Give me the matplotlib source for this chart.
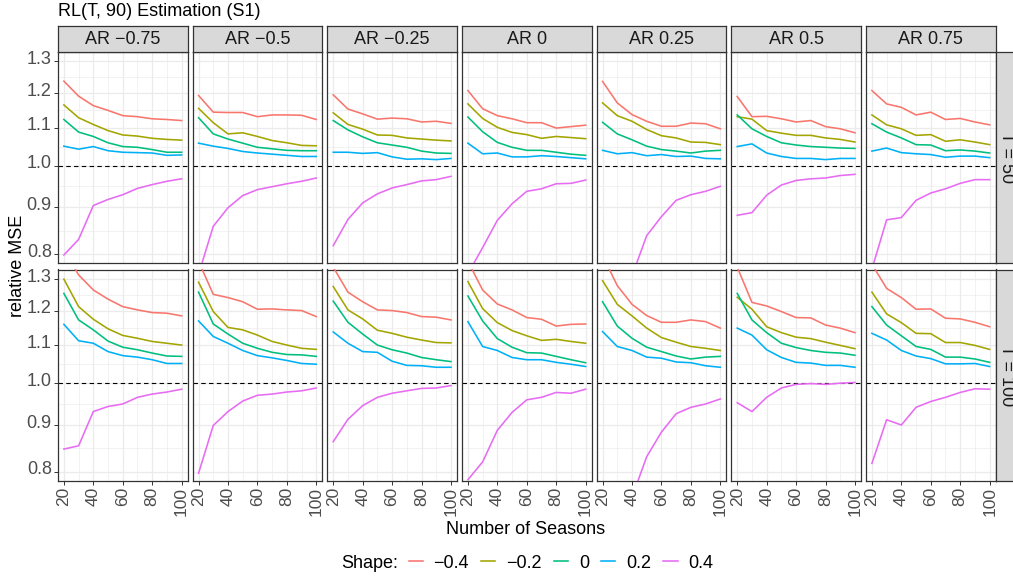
import matplotlib
matplotlib.use("Agg")
import matplotlib.pyplot as plt
import matplotlib.transforms as mtransforms
from matplotlib.lines import Line2D
import numpy as np

plt.rcParams['font.family'] = ['Liberation Sans', 'DejaVu Sans']

seasons = [20, 30, 40, 50, 60, 70, 80, 90, 100]
shapes = ['\u22120.4', '\u22120.2', '0', '0.2', '0.4']
colors = ['#F8766D', '#A3A500', '#00BF7D', '#00B0F6', '#E76BF3']
ar_labels = ['AR \u22120.75', 'AR \u22120.5', 'AR \u22120.25', 'AR 0', 'AR 0.25', 'AR 0.5', 'AR 0.75']
t_labels = ['T = 50', 'T = 100']

# relative MSE, one list per shape (-0.4, -0.2, 0, 0.2, 0.4), T = 50
t50_ar_m075 = [[1.237, 1.191, 1.163, 1.149, 1.134, 1.131, 1.125, 1.123, 1.120],
               [1.165, 1.128, 1.109, 1.092, 1.080, 1.077, 1.071, 1.068, 1.066],
               [1.123, 1.088, 1.076, 1.059, 1.049, 1.047, 1.041, 1.034, 1.034],
               [1.050, 1.042, 1.049, 1.038, 1.034, 1.033, 1.032, 1.026, 1.027],
               [0.798, 0.830, 0.904, 0.918, 0.929, 0.944, 0.953, 0.961, 0.967]]
t50_ar_m05 = [[1.193, 1.144, 1.143, 1.143, 1.131, 1.136, 1.136, 1.135, 1.123],
              [1.155, 1.114, 1.083, 1.086, 1.076, 1.065, 1.059, 1.052, 1.051],
              [1.128, 1.083, 1.069, 1.058, 1.047, 1.043, 1.039, 1.038, 1.038],
              [1.058, 1.050, 1.044, 1.036, 1.032, 1.029, 1.026, 1.023, 1.023],
              [0.760, 0.858, 0.899, 0.927, 0.941, 0.948, 0.955, 0.961, 0.969]]
t50_ar_m025 = [[1.195, 1.153, 1.139, 1.124, 1.127, 1.125, 1.116, 1.118, 1.112],
               [1.142, 1.109, 1.096, 1.080, 1.079, 1.072, 1.069, 1.066, 1.064],
               [1.120, 1.094, 1.075, 1.059, 1.053, 1.047, 1.037, 1.032, 1.031],
               [1.034, 1.034, 1.031, 1.033, 1.022, 1.016, 1.017, 1.015, 1.018],
               [0.817, 0.873, 0.910, 0.931, 0.945, 0.953, 0.962, 0.965, 0.973]]
t50_ar_0 = [[1.208, 1.154, 1.134, 1.125, 1.114, 1.114, 1.099, 1.103, 1.107],
            [1.168, 1.126, 1.101, 1.087, 1.081, 1.071, 1.076, 1.073, 1.070],
            [1.130, 1.089, 1.060, 1.047, 1.039, 1.039, 1.034, 1.029, 1.026],
            [1.058, 1.030, 1.032, 1.022, 1.022, 1.025, 1.023, 1.020, 1.017],
            [0.761, 0.813, 0.871, 0.908, 0.937, 0.943, 0.955, 0.956, 0.964]]
t50_ar_025 = [[1.236, 1.171, 1.137, 1.118, 1.104, 1.104, 1.113, 1.111, 1.097],
              [1.171, 1.134, 1.118, 1.095, 1.078, 1.072, 1.061, 1.060, 1.054],
              [1.115, 1.083, 1.067, 1.050, 1.041, 1.037, 1.032, 1.037, 1.039],
              [1.039, 1.030, 1.033, 1.025, 1.028, 1.023, 1.024, 1.018, 1.017],
              [0.660, 0.710, 0.757, 0.838, 0.879, 0.916, 0.929, 0.937, 0.949]]
t50_ar_05 = [[1.190, 1.131, 1.132, 1.125, 1.116, 1.120, 1.103, 1.097, 1.086],
             [1.131, 1.124, 1.092, 1.085, 1.079, 1.079, 1.072, 1.068, 1.061],
             [1.136, 1.097, 1.076, 1.059, 1.053, 1.049, 1.047, 1.045, 1.044],
             [1.049, 1.056, 1.032, 1.023, 1.018, 1.018, 1.015, 1.018, 1.018],
             [0.882, 0.888, 0.928, 0.952, 0.963, 0.967, 0.969, 0.975, 0.978]]
t50_ar_075 = [[1.208, 1.168, 1.158, 1.136, 1.144, 1.123, 1.126, 1.116, 1.108],
              [1.136, 1.108, 1.097, 1.079, 1.081, 1.063, 1.067, 1.061, 1.054],
              [1.111, 1.088, 1.072, 1.054, 1.053, 1.038, 1.040, 1.037, 1.032],
              [1.037, 1.045, 1.033, 1.030, 1.028, 1.021, 1.024, 1.024, 1.020],
              [0.770, 0.872, 0.877, 0.916, 0.933, 0.943, 0.956, 0.965, 0.965]]

# T = 100
t100_ar_m075 = [[1.400, 1.314, 1.265, 1.236, 1.213, 1.203, 1.195, 1.193, 1.185],
                [1.300, 1.213, 1.175, 1.147, 1.128, 1.120, 1.111, 1.106, 1.101],
                [1.254, 1.173, 1.144, 1.112, 1.095, 1.088, 1.079, 1.071, 1.070],
                [1.160, 1.113, 1.106, 1.083, 1.072, 1.068, 1.061, 1.051, 1.051],
                [0.847, 0.854, 0.931, 0.943, 0.949, 0.965, 0.973, 0.978, 0.985]]
t100_ar_m05 = [[1.360, 1.251, 1.241, 1.228, 1.205, 1.206, 1.203, 1.201, 1.183],
               [1.290, 1.198, 1.151, 1.144, 1.129, 1.111, 1.101, 1.092, 1.089],
               [1.258, 1.161, 1.132, 1.106, 1.092, 1.081, 1.075, 1.074, 1.070],
               [1.170, 1.125, 1.106, 1.086, 1.072, 1.066, 1.059, 1.051, 1.049],
               [0.797, 0.899, 0.931, 0.956, 0.970, 0.973, 0.978, 0.981, 0.988]]
t100_ar_m025 = [[1.340, 1.258, 1.228, 1.203, 1.201, 1.195, 1.183, 1.181, 1.173],
                [1.276, 1.203, 1.176, 1.143, 1.134, 1.123, 1.115, 1.108, 1.107],
                [1.230, 1.166, 1.132, 1.101, 1.088, 1.079, 1.067, 1.061, 1.056],
                [1.138, 1.106, 1.083, 1.081, 1.057, 1.046, 1.045, 1.041, 1.041],
                [0.863, 0.913, 0.945, 0.965, 0.975, 0.981, 0.987, 0.988, 0.994]]
t100_ar_0 = [[1.360, 1.265, 1.221, 1.203, 1.180, 1.175, 1.155, 1.160, 1.161],
             [1.292, 1.207, 1.165, 1.142, 1.127, 1.114, 1.117, 1.111, 1.106],
             [1.246, 1.170, 1.119, 1.095, 1.080, 1.079, 1.070, 1.061, 1.053],
             [1.168, 1.097, 1.086, 1.067, 1.061, 1.061, 1.054, 1.049, 1.043],
             [0.784, 0.820, 0.888, 0.929, 0.959, 0.965, 0.977, 0.975, 0.985]]
t100_ar_025 = [[1.380, 1.279, 1.220, 1.186, 1.166, 1.166, 1.173, 1.168, 1.149],
               [1.295, 1.220, 1.185, 1.149, 1.122, 1.109, 1.097, 1.092, 1.086],
               [1.228, 1.155, 1.120, 1.095, 1.083, 1.071, 1.063, 1.068, 1.070],
               [1.139, 1.097, 1.086, 1.068, 1.065, 1.055, 1.053, 1.045, 1.041],
               [0.660, 0.700, 0.750, 0.831, 0.884, 0.926, 0.941, 0.949, 0.961]]
t100_ar_05 = [[1.340, 1.226, 1.215, 1.198, 1.180, 1.179, 1.158, 1.149, 1.136],
              [1.242, 1.205, 1.153, 1.136, 1.123, 1.119, 1.109, 1.100, 1.091],
              [1.254, 1.173, 1.136, 1.106, 1.094, 1.086, 1.081, 1.079, 1.073],
              [1.149, 1.129, 1.088, 1.067, 1.054, 1.052, 1.046, 1.046, 1.041],
              [0.952, 0.931, 0.965, 0.988, 0.997, 0.999, 0.997, 1.000, 1.002]]
t100_ar_075 = [[1.350, 1.270, 1.241, 1.205, 1.206, 1.178, 1.176, 1.166, 1.153],
               [1.258, 1.191, 1.165, 1.134, 1.133, 1.108, 1.108, 1.100, 1.089],
               [1.213, 1.158, 1.127, 1.097, 1.089, 1.068, 1.068, 1.063, 1.054],
               [1.134, 1.115, 1.086, 1.071, 1.064, 1.050, 1.050, 1.051, 1.043],
               [0.817, 0.912, 0.900, 0.941, 0.955, 0.965, 0.977, 0.986, 0.985]]

panels = [[t50_ar_m075, t50_ar_m05, t50_ar_m025, t50_ar_0, t50_ar_025, t50_ar_05, t50_ar_075],
          [t100_ar_m075, t100_ar_m05, t100_ar_m025, t100_ar_0, t100_ar_025, t100_ar_05, t100_ar_075]]

W, H = 1013, 577
fig = plt.figure(figsize=(W / 100, H / 100), dpi=100)


def px_box(x0, y0, x1, y1):
    # pixel box (top-left origin) -> figure fraction rect
    return [x0 / W, 1 - y1 / H, (x1 - x0) / W, (y1 - y0) / H]


major_y = [0.8, 0.9, 1.0, 1.1, 1.2, 1.3]
minor_y = [np.sqrt(a * b) for a, b in zip(major_y[:-1], major_y[1:])]
grey20 = '#333333'
grey30 = '#4D4D4D'
fs = 13

col_left = 58.0
col_pitch = 134.67
col_w = 129.5
row_tops = [51.8, 269.5]
row_h = 211.5

for r in range(2):
    for c in range(7):
        x0 = col_left + c * col_pitch
        y0 = row_tops[r]
        ax = fig.add_axes(px_box(x0, y0, x0 + col_w, y0 + row_h))
        ax.set_yscale('log')
        ax.set_xlim(16, 104)
        ax.set_ylim(0.7815, 1.332)
        for y in minor_y:
            ax.axhline(y, color='#EBEBEB', lw=0.45, zorder=0)
        for y in major_y:
            ax.axhline(y, color='#EBEBEB', lw=0.9, zorder=0)
        for x in [30, 50, 70, 90]:
            ax.axvline(x, color='#EBEBEB', lw=0.45, zorder=0)
        for x in [20, 40, 60, 80, 100]:
            ax.axvline(x, color='#EBEBEB', lw=0.9, zorder=0)
        ax.axhline(1.0, color='black', lw=0.8, ls=(0, (4, 3)), zorder=2)
        for vals, col in zip(panels[r][c], colors):
            ax.plot(seasons, vals, color=col, lw=1.15, zorder=3)

        ax.set_xticks([20, 40, 60, 80, 100])
        ax.set_xticks([], minor=True)
        ax.set_yticks(major_y)
        ax.set_yticks([], minor=True)
        ax.tick_params(axis='both', which='major', color=grey20, length=3, width=0.7,
                       labelcolor=grey30, labelsize=fs - 0.5, pad=1.5)
        ax.tick_params(axis='x', labelrotation=90)
        if r == 1:
            ax.set_xticklabels(['20', '40', '60', '80', '100'])
        else:
            ax.tick_params(axis='x', bottom=False, labelbottom=False)
        if c == 0:
            ax.set_yticklabels(['0.8', '0.9', '1.0', '1.1', '1.2', '1.3'])
            ax.tick_params(axis='y', labelsize=fs)
            shift = mtransforms.ScaledTranslation(0, 4 / 100, fig.dpi_scale_trans)
            for lab in ax.get_yticklabels():
                lab.set_transform(lab.get_transform() + shift)
        else:
            ax.tick_params(axis='y', left=False, labelleft=False)
        for s in ax.spines.values():
            s.set_color(grey20)
            s.set_linewidth(0.9)

        # column strip on top row
        if r == 0:
            sax = fig.add_axes(px_box(x0, 25.7, x0 + col_w, y0))
            sax.set_facecolor('#D9D9D9')
            sax.set_xticks([])
            sax.set_yticks([])
            for s in sax.spines.values():
                s.set_color(grey20)
                s.set_linewidth(0.9)
            sax.text(0.5, 0.47, ar_labels[c], ha='center', va='center',
                     fontsize=fs, color='#1A1A1A', transform=sax.transAxes)
        # row strip at right
        if c == 6:
            rax = fig.add_axes(px_box(995.5, y0, 1025, y0 + row_h))
            rax.set_facecolor('#D9D9D9')
            rax.set_xticks([])
            rax.set_yticks([])
            for s in rax.spines.values():
                s.set_color(grey20)
                s.set_linewidth(0.9)
            rax.text(11.0 / 29.5, 0.5, t_labels[r], ha='center', va='center', rotation=270,
                     fontsize=fs, color='#1A1A1A', transform=rax.transAxes)

fig.text(58 / W, 1 - 11 / H, 'RL(T, 90) Estimation (S1)', ha='left', va='center',
         fontsize=fs, color='black')
fig.text(18 / W, 1 - 266 / H, 'relative MSE', rotation=90, ha='center', va='center',
         fontsize=fs, color='black')
fig.text(526 / W, 1 - 530 / H, 'Number of Seasons', ha='center', va='center',
         fontsize=fs, color='black')

handles = [Line2D([], [], color=col, lw=1.15) for col in colors]
fig.legend(handles, shapes, loc='center', bbox_to_anchor=(561 / W, 1 - 563 / H), ncol=5,
           frameon=False, fontsize=fs, handlelength=0.78, handletextpad=0.6,
           columnspacing=0.68, borderpad=0, borderaxespad=0)
fig.text(370 / W, 1 - 563 / H, 'Shape:', ha='center', va='center', fontsize=fs, color='black')

fig.savefig('out.png', dpi=100)
